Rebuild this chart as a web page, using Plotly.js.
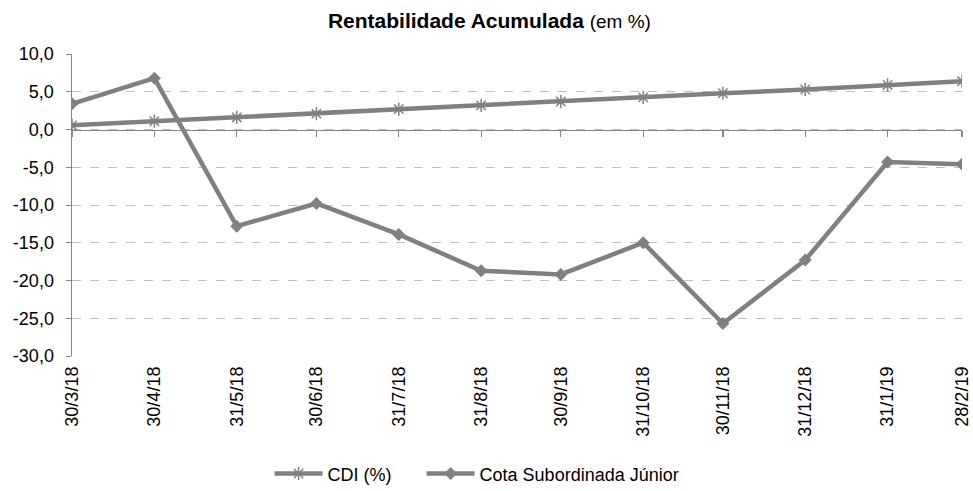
<!DOCTYPE html>
<html>
<head>
<meta charset="utf-8">
<script src="https://cdn.plot.ly/plotly-3.0.1.min.js"></script>
<style>html,body{margin:0;padding:0;background:#fff}#chart{width:973px;height:491px}</style>
</head>
<body>
<div id="chart"></div>
<script>
const dates = ["2018-03-30","2018-04-30","2018-05-31","2018-06-30","2018-07-31","2018-08-31","2018-09-30","2018-10-31","2018-11-30","2018-12-31","2019-01-31","2019-02-28"];
const dateLabels = ["30/3/18","30/4/18","31/5/18","30/6/18","31/7/18","31/8/18","30/9/18","31/10/18","30/11/18","31/12/18","31/1/19","28/2/19"];
const seriesNames = ["CDI (%)", "Cota Subordinada Júnior"];
const cdi = [0.55, 1.1, 1.6, 2.1, 2.7, 3.2, 3.7, 4.25, 4.8, 5.3, 5.9, 6.4];
const cota = [3.4, 6.8, -12.8, -9.8, -13.9, -18.7, -19.2, -15.0, -25.7, -17.3, -4.3, -4.6];
const yTicks = [10, 5, 0, -5, -10, -15, -20, -25, -30];
const yTickText = yTicks.map(v => v.toFixed(1).replace('.', ','));

const grey = '#808080';
const fam = 'Liberation Sans, Arial, sans-serif';
const font = {family: fam, size: 18, color: '#000'};
const pad = '\u00a0\u00a0\u00a0\u00a0\u00a0';

const traces = [
  {x: dates, y: cdi, name: seriesNames[0] + pad, type: 'scatter', mode: 'lines+markers',
   line: {color: grey, width: 4.5},
   marker: {symbol: 'asterisk-open', size: 11, color: grey, line: {color: grey, width: 1.5}}},
  {x: dates, y: cota, name: seriesNames[1], type: 'scatter', mode: 'lines+markers',
   line: {color: grey, width: 4.5},
   marker: {symbol: 'diamond', size: 10, color: grey}},
  {x: dates, y: cdi, xaxis: 'x2', type: 'scatter', mode: 'lines', showlegend: false,
   hoverinfo: 'skip', opacity: 0, line: {width: 0}}
];

const layout = {
  width: 973, height: 491,
  margin: {l: 72, r: 11, t: 54, b: 135, autoexpand: false},
  paper_bgcolor: '#fff', plot_bgcolor: '#fff',
  font: font,
  showlegend: true,
  title: {text: '<b>Rentabilidade Acumulada</b> <span style="font-size:19px">(em %)</span>',
          font: {family: fam, size: 21, color: '#000'},
          x: 0.503, xanchor: 'center', y: 0.958, yanchor: 'middle'},
  xaxis: {type: 'date', range: [dates[0], dates[dates.length - 1]],
          tickvals: dates, ticktext: dateLabels, tickangle: -90, automargin: false,
          showgrid: false, zeroline: false, showline: false, ticks: '', ticklabelstandoff: 6,
          tickfont: {family: fam, size: 18, color: '#000'}},
  xaxis2: {type: 'date', overlaying: 'x', anchor: 'free', position: 0.75, side: 'bottom',
           range: [dates[0], dates[dates.length - 1]],
           tickvals: dates, showticklabels: false, ticks: 'outside', ticklen: 6, tickwidth: 1.2, tickcolor: '#868686',
           showline: true, linecolor: '#868686', linewidth: 1.5, showgrid: false, zeroline: false},
  yaxis: {range: [-30, 10], tickvals: yTicks, ticktext: yTickText, automargin: false,
          showgrid: true, gridcolor: '#bfbfbf', griddash: 'dash', gridwidth: 1,
          zeroline: false, showline: true, linecolor: '#868686', linewidth: 1.5,
          ticks: 'outside', ticklen: 5, tickcolor: '#868686', ticklabelstandoff: 8,
          tickfont: {family: fam, size: 18, color: '#000'}},
  legend: {orientation: 'h', x: 0.222, xanchor: 'left', y: -0.39, yanchor: 'middle',
           itemwidth: 48,
           font: {family: fam, size: 18, color: '#000'}, traceorder: 'normal'}
};

Plotly.newPlot('chart', traces, layout, {displayModeBar: false, staticPlot: true});
</script>
</body>
</html>
